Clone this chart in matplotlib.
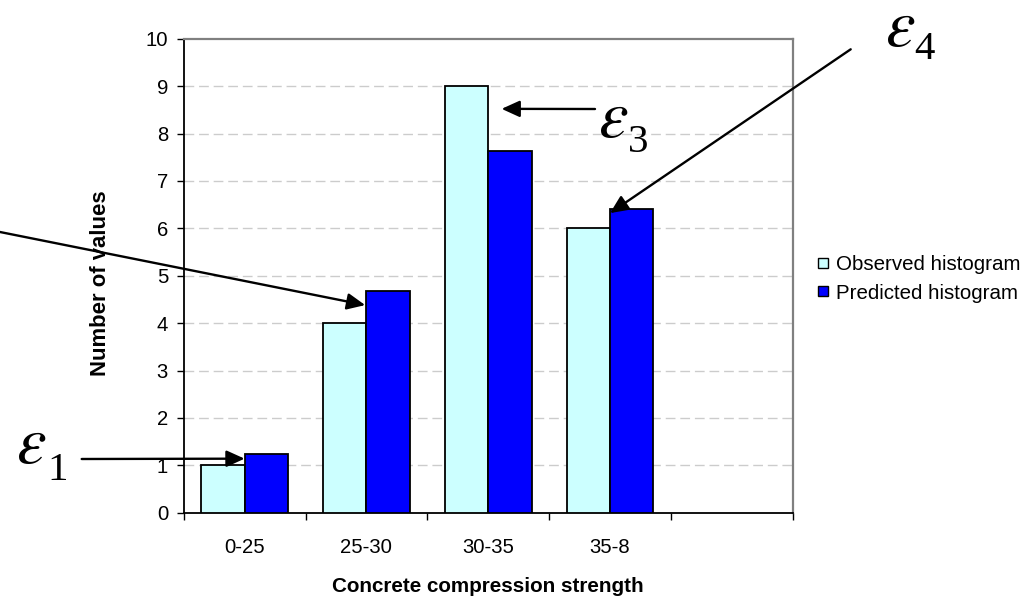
import matplotlib
matplotlib.use("Agg")
import matplotlib.pyplot as plt
from matplotlib.lines import Line2D
import numpy as np

# Histogram data: class intervals and counts
categories = ["0-25", "25-30", "30-35", "35-8", ""]
observed = [1, 4, 9, 6]
predicted = [1.23, 4.68, 7.63, 6.40]
series_names = ["Observed histogram", "Predicted histogram"]
y_ticks = list(range(0, 11))

# Where each error arrow points (category position, value)
eps_targets = {
    1: (0.0, 1.14),
    2: (0.99, 4.38),
    3: (2.11, 8.52),
    4: (3.0, 6.32),
}

plt.rcParams["font.family"] = ["Liberation Sans", "DejaVu Sans"]
plt.rcParams["mathtext.fontset"] = "stix"

W, H, DPI = 1030, 599, 100
fig = plt.figure(figsize=(W / DPI, H / DPI), dpi=DPI)
fig.patch.set_facecolor("white")

# axes in pixel geometry
left, right, top, bottom = 183.7, 792.7, 38.7, 512.7
ax = fig.add_axes([left / W, 1 - bottom / H, (right - left) / W, (bottom - top) / H])

FS = 14.6
obs_color = "#CCFFFF"
pred_color = "#0000FF"
bw = 0.357
x = np.arange(len(observed))
ax.bar(x - bw / 2, observed, width=bw, color=obs_color, edgecolor="black",
       linewidth=1.3, zorder=3)
ax.bar(x + bw / 2, predicted, width=bw, color=pred_color, edgecolor="black",
       linewidth=1.3, zorder=3)

ax.set_xlim(-0.5, len(categories) - 0.5)
ax.set_ylim(0, 10)

# y axis
ax.set_yticks(y_ticks)
ax.set_yticklabels([str(v) for v in y_ticks], fontsize=FS)
ax.tick_params(axis="y", direction="out", length=5, width=1, pad=6.3, colors="black")

# x axis: ticks at class boundaries, labels at class centres
ax.set_xticks(np.arange(len(categories) + 1) - 0.5)
ax.set_xticklabels([])
ax.set_xticks(np.arange(len(categories)), minor=True)
ax.set_xticklabels(categories, minor=True, fontsize=FS)
ax.tick_params(axis="x", which="major", direction="out", length=5, width=1, colors="black")
ax.tick_params(axis="x", which="minor", length=0, pad=18.5)

# gridlines
for v in y_ticks[1:-1]:
    ax.axhline(v, color="#CCCCCC", linewidth=1.0, linestyle=(0, (7, 3.5)), zorder=1)

for s in ("left", "bottom"):
    ax.spines[s].set_color("black")
    ax.spines[s].set_linewidth(1.3)
for s in ("top", "right"):
    ax.spines[s].set_color("#808080")
    ax.spines[s].set_linewidth(1.6)

# axis titles
fig.text(488.2 / W, 1 - 586 / H, "Concrete compression strength", fontsize=14.9,
         fontweight="bold", ha="center", va="center")
fig.text(101 / W, 1 - 283.5 / H, "Number of values", fontsize=15.9,
         fontweight="bold", ha="center", va="center", rotation=90)

# legend
handles = [
    Line2D([], [], linestyle="none", marker="s", markersize=6.5,
           markerfacecolor=obs_color, markeredgecolor="black", markeredgewidth=1.0),
    Line2D([], [], linestyle="none", marker="s", markersize=6.5,
           markerfacecolor=pred_color, markeredgecolor="black", markeredgewidth=1.0),
]
fig.legend(handles, series_names, loc="center left",
           bbox_to_anchor=(818 / W, 1 - 279 / H), frameon=False, fontsize=14.8,
           handlelength=0.45, handletextpad=0.45, labelspacing=0.45,
           borderpad=0, borderaxespad=0)

# error arrows
arrow_kw = dict(arrowstyle="-|>,head_length=0.55,head_width=0.25", mutation_scale=20,
                color="black", lw=1.7, shrinkA=0, shrinkB=0)
tails = {1: (81.7, 459), 2: (-30, 226), 3: (595, 109), 4: (850.7, 49.3)}
for k, (tx, ty) in tails.items():
    ax.annotate("", xy=eps_targets[k], xycoords="data",
                xytext=(tx, H - ty), textcoords="figure pixels",
                arrowprops=arrow_kw, annotation_clip=False, zorder=5)

# error symbols: epsilon with a lowered index digit
# (epsilon left, epsilon baseline, digit left, digit baseline) in pixels from top-left
labels_pos = {1: (16, 463, 47, 480), 3: (598, 137, 628, 152), 4: (885, 46, 914, 59)}
for k, (ex, ey, dx, dy) in labels_pos.items():
    fig.text(ex / W, 1 - ey / H, r"$\varepsilon$", fontsize=48,
             family="Liberation Serif", ha="left", va="baseline")
    fig.text(dx / W, 1 - dy / H, str(k), fontsize=29.5, family="Liberation Serif",
             ha="left", va="baseline")

fig.savefig("out.png", dpi=DPI, facecolor="white")
